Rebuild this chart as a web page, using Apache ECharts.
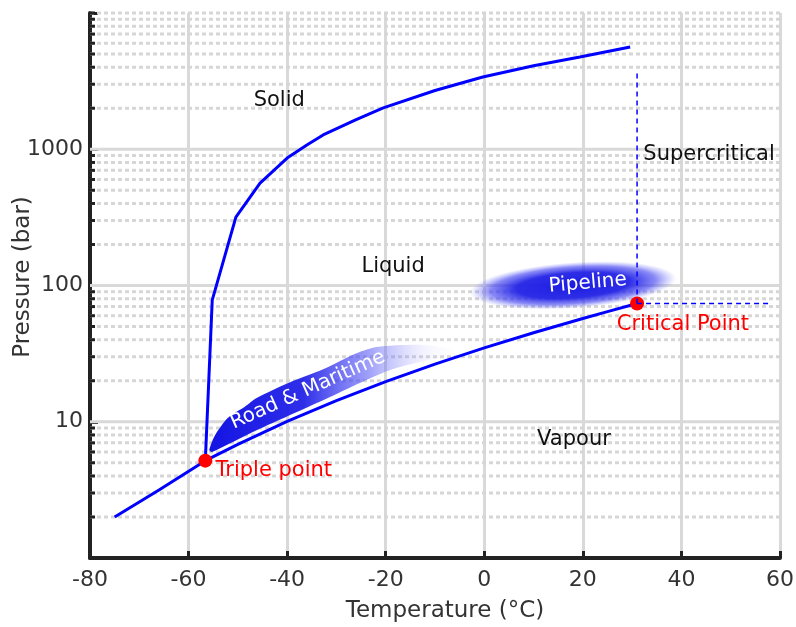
<!DOCTYPE html>
<html>
<head>
<meta charset="utf-8">
<script src="https://cdn.jsdelivr.net/npm/echarts@6/dist/echarts.min.js"></script>
<style>
  html, body { margin: 0; padding: 0; background: #fff; }
  #chart { width: 796px; height: 627px; }
</style>
</head>
<body>
<div id="chart"></div>
<script>
// CO2 phase diagram, T in °C, p in bar
const sublimT = [-75, -66, -56.6];
const sublimP = [2.0, 3.16, 5.18];

const vaporT = [-56.6, -50, -40, -30, -20, -10, 0, 10, 20, 25, 31];
const vaporP = [5.18, 6.82, 10.05, 14.28, 19.7, 26.49, 34.85, 45.02, 57.29, 64.34, 73.8];

const meltT = [-56.6, -55.2, -50.4, -45.5, -40, -36, -32.7, -26, -20.5, -10, -0.3, 10, 19.4, 29.6];
const meltP = [5.18, 78, 318, 565, 862, 1074, 1273, 1650, 2010, 2700, 3390, 4100, 4750, 5630];

const triplePoint = [-56.6, 5.18];
const criticalPoint = [31, 73.8];
const criticalVertEnd = [31, 3700];
const criticalHorzEnd = [58, 73.8];

// "Road & Maritime" band, upper edge left->right, lower edge right->left
const roadUpper = [[-55.8, 6.2], [-54.6, 8.0], [-52.0, 10.7], [-48.6, 12.9], [-46.1, 15.0], [-39.4, 19.5],
  [-32.7, 24.3], [-25.8, 32.0], [-21.8, 35.4], [-12.4, 36.6], [-5.5, 33.6]];
const roadLower = [[-5.5, 32.0], [-19.1, 24.0], [-32.7, 14.4], [-46.1, 8.7], [-55.25, 6.0]];

// "Pipeline" blob extent
const pipeT = [-3, 39];
const pipeP = [68, 148];

const minorP = [2, 3, 4, 5, 6, 7, 8, 9, 20, 30, 40, 50, 60, 70, 80, 90,
  200, 300, 400, 500, 600, 700, 800, 900, 2000, 3000, 4000, 5000, 6000, 7000, 8000, 9000, 10000];
const majorP = [10, 100, 1000];

const textNames = ['Solid', 'Liquid', 'Vapour', 'Supercritical', 'Triple point', 'Critical Point', 'Road & Maritime', 'Pipeline'];
const textT = [-41.6, -18.5, 18.2, 45.6, -42.7, 40.3, -35.8, 21.0];
const textP = [2260, 137, 7.35, 907, 4.35, 51.5, 17.1, 104];

const FONT = 'DejaVu Sans';
const BLUE = '#0000ff';

const textStyles = {
  'Triple point': { color: '#ff0000', rotate: 0, size: 21 },
  'Critical Point': { color: '#ff0000', rotate: 0, size: 21 },
  'Road & Maritime': { color: '#ffffff', rotate: 24, size: 20 },
  'Pipeline': { color: '#ffffff', rotate: 5, size: 20 },
};

const zip = (a, b) => a.map((v, i) => [v, b[i]]);

const chart = echarts.init(document.getElementById('chart'));

// horizontal grid line across the plot for a pressure value (+ optional tick on the axis)
const hLine = (dashed, tickLen) => (params, api) => {
  const cs = params.coordSys;
  const y = api.coord([-80, api.value(1)])[1];
  const children = [{
    type: 'line',
    shape: { x1: cs.x, y1: y, x2: cs.x + cs.width, y2: y },
    style: dashed
      ? { stroke: '#d6d6d6', lineWidth: 3, lineDash: [4, 3] }
      : { stroke: '#d9d9d9', lineWidth: 3 },
  }];
  if (tickLen) {
    children.push({
      type: 'line',
      z2: 10,
      shape: { x1: cs.x, y1: y, x2: cs.x + tickLen, y2: y },
      style: { stroke: '#222', lineWidth: 3 },
    });
  }
  return { type: 'group', children };
};

const option = {
  animation: false,
  backgroundColor: '#ffffff',
  grid: { left: 90, right: 16, top: 13, bottom: 69, containLabel: false, outerBoundsMode: 'none' },
  xAxis: {
    type: 'value',
    min: -80,
    max: 60,
    interval: 20,
    name: 'Temperature (°C)',
    nameLocation: 'middle',
    nameGap: 42,
    nameMoveOverlap: false,
    nameTextStyle: { fontFamily: FONT, fontSize: 23, color: '#333', padding: [0, 0, 0, 20] },
    axisLine: { lineStyle: { color: '#222', width: 4 } },
    axisTick: { inside: true, length: 7, lineStyle: { color: '#222', width: 3 } },
    axisLabel: { fontFamily: FONT, fontSize: 22, color: '#333', margin: 11 },
    splitLine: { show: true, lineStyle: { color: '#d9d9d9', width: 3 } },
  },
  yAxis: {
    type: 'log',
    logBase: 10,
    min: 1,
    max: 10000,
    name: 'Pressure (bar)',
    nameLocation: 'middle',
    nameGap: 55,
    nameMoveOverlap: false,
    nameTextStyle: { fontFamily: FONT, fontSize: 23, color: '#333', padding: [0, 0, 0, 17] },
    axisLine: { onZero: false, lineStyle: { color: '#222', width: 4 } },
    axisTick: { inside: true, length: 8, lineStyle: { color: '#222', width: 3 } },
    axisLabel: {
      fontFamily: FONT, fontSize: 22, color: '#333', margin: 7,
      formatter: (v) => {
        const r = Math.round(v);
        return (r >= 10 && r <= 1000) ? String(r) : '';
      },
    },
    splitLine: { show: false },
  },
  series: [
    {
      // dotted minor grid + minor ticks
      type: 'custom',
      z: 1,
      silent: true,
      data: minorP.map((p) => [-80, p]),
      renderItem: hLine(true, 5),
    },
    {
      // solid major grid at decades
      type: 'custom',
      z: 1,
      silent: true,
      data: majorP.map((p) => [-80, p]),
      renderItem: hLine(false, 0),
    },
    {
      type: 'custom',
      z: 2,
      silent: true,
      data: [roadUpper[0]],
      renderItem: (params, api) => {
        const pts = roadUpper.concat(roadLower).map((d) => api.coord(d));
        return {
          type: 'polygon',
          shape: { points: pts, smooth: 0.25 },
          style: {
            fill: {
              type: 'linear', x: 0, y: 0, x2: 1, y2: 0,
              colorStops: [
                { offset: 0, color: 'rgba(20,20,228,1)' },
                { offset: 0.38, color: 'rgba(35,35,232,0.95)' },
                { offset: 0.64, color: 'rgba(80,80,245,0.55)' },
                { offset: 0.86, color: 'rgba(150,150,255,0.12)' },
                { offset: 1, color: 'rgba(200,200,255,0)' },
              ],
            },
          },
        };
      },
    },
    {
      type: 'custom',
      z: 2,
      silent: true,
      data: [[pipeT[0], pipeP[0]]],
      renderItem: (params, api) => {
        const a = api.coord([pipeT[0], pipeP[0]]);
        const b = api.coord([pipeT[1], pipeP[1]]);
        const cx = (a[0] + b[0]) / 2;
        const cy = (a[1] + b[1]) / 2;
        const rx = Math.abs(b[0] - a[0]) / 2;
        const ry = Math.abs(b[1] - a[1]) / 2;
        return {
          type: 'circle',
          x: cx,
          y: cy,
          scaleX: rx / ry,
          rotation: 0.07,
          shape: { cx: 0, cy: 0, r: ry },
          style: {
            fill: {
              type: 'radial', x: 0.5, y: 0.5, r: 0.5,
              colorStops: [
                { offset: 0, color: 'rgba(28,28,228,1)' },
                { offset: 0.55, color: 'rgba(35,35,230,0.95)' },
                { offset: 0.8, color: 'rgba(60,60,240,0.6)' },
                { offset: 1, color: 'rgba(110,110,255,0)' },
              ],
            },
          },
        };
      },
    },
    {
      name: 'Sublimation',
      type: 'line',
      z: 3,
      symbol: 'none',
      lineStyle: { color: BLUE, width: 3 },
      data: zip(sublimT, sublimP),
    },
    {
      name: 'Vaporisation',
      type: 'line',
      z: 3,
      symbol: 'none',
      lineStyle: { color: BLUE, width: 3 },
      data: zip(vaporT, vaporP),
    },
    {
      name: 'Melting',
      type: 'line',
      z: 3,
      symbol: 'none',
      lineStyle: { color: BLUE, width: 3 },
      data: zip(meltT, meltP),
    },
    {
      type: 'scatter',
      z: 4,
      symbol: 'circle',
      symbolSize: 14,
      itemStyle: { color: '#ff0000', opacity: 1 },
      data: [triplePoint, criticalPoint],
    },
    {
      type: 'line',
      z: 5,
      symbol: 'none',
      lineStyle: { color: BLUE, width: 1.5, type: [5, 4] },
      data: [criticalPoint, criticalVertEnd],
    },
    {
      type: 'line',
      z: 5,
      symbol: 'none',
      lineStyle: { color: BLUE, width: 1.5, type: [5, 4] },
      data: [criticalPoint, criticalHorzEnd],
    },
    {
      type: 'scatter',
      z: 6,
      silent: true,
      symbolSize: 1,
      itemStyle: { color: 'rgba(0,0,0,0)', opacity: 1 },
      data: textNames.map((name, i) => {
        const st = textStyles[name] || { color: '#111', rotate: 0, size: 21 };
        return {
          value: [textT[i], textP[i]],
          label: {
            show: true,
            position: 'inside',
            formatter: name,
            rotate: st.rotate,
            color: st.color,
            fontFamily: FONT,
            fontSize: st.size,
            align: 'center',
            verticalAlign: 'middle',
          },
        };
      }),
    },
  ],
};

chart.setOption(option);
</script>
</body>
</html>
